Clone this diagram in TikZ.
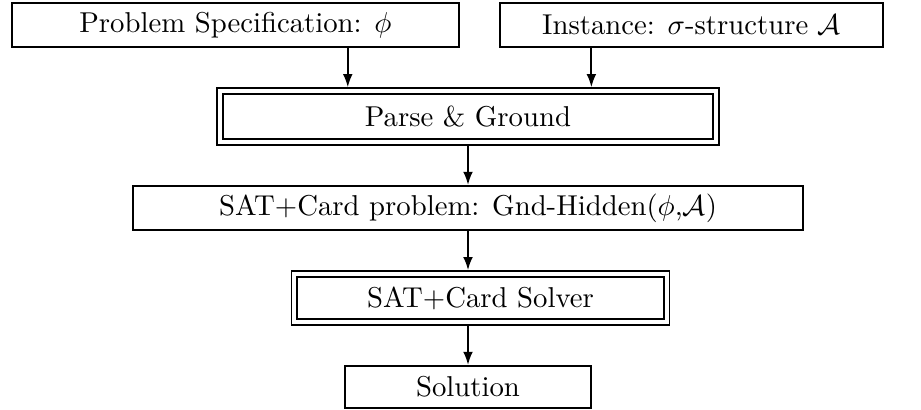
\documentclass[tikz,border=0pt]{standalone}
\usepackage{amsmath}
\usepackage{amssymb}
\usetikzlibrary{arrows.meta,calc}

\tikzset{
  box/.style={draw, line width=0.7pt, inner sep=0pt, minimum height=15.3pt},
  dbox/.style={draw, line width=0.6pt, double, double distance=1.4pt, inner sep=0pt, outer sep=1.3pt},
  arr/.style={-{Latex[length=4.6pt,width=3.4pt]}, line width=0.7pt},
}

\begin{document}
\begin{tikzpicture}[x=0.348pt,y=0.348pt,yscale=-1,xscale=1]
        \useasboundingbox (0,0) rectangle (921,410);

        % Inputs
        \node [box, minimum width=155.6pt] (spec) at (235.5,25) {Problem Specification: $\phi$};
        \node [box, minimum width=133.3pt] (inst) at (691.5,25) {Instance: $\sigma$-structure $\mathcal{A}$};
        % Grounder
        \node [dbox, minimum width=172.6pt, minimum height=17.7pt] (parse) at (468,116.5) {Parse \& Ground};
        % Ground theory
        \node [box, minimum width=233.2pt] (prob) at (468,208) {SAT+Card problem: Gnd-Hidden($\phi$,$\mathcal{A}$)};
        % Solver
        \node [dbox, minimum width=129.6pt, minimum height=16.7pt] (solver) at (480.5,298) {SAT+Card Solver};
        % Output
        \node [box, minimum width=85.3pt, minimum height=14.6pt] (sol) at (468,387) {Solution};

        % Arrows
        \draw [arr] ($(spec.south west)!.75!(spec.south east)$) coordinate (a1) -- (a1 |- parse.north);
        \draw [arr] ($(inst.south west)!.24!(inst.south east)$) coordinate (a2) -- (a2 |- parse.north);
        \draw [arr] (parse.south) -- (prob.north);
        \draw [arr] (prob.south) -- (prob.south |- solver.north);
        \draw [arr] (solver.south -| sol.north) -- (sol.north);

\end{tikzpicture}
\end{document}
